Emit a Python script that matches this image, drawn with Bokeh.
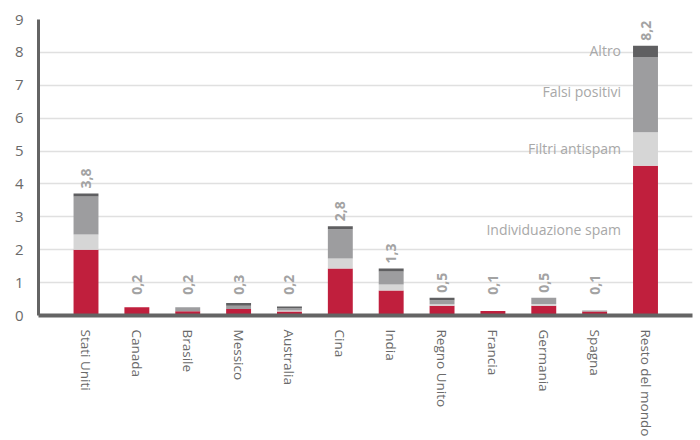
import numpy as np
from bokeh.plotting import figure
from bokeh.models import ColumnDataSource, Range1d, FixedTicker
from bokeh.core.properties import value
from bokeh.embed import file_html
from bokeh.resources import INLINE

countries = ["Stati Uniti", "Canada", "Brasile", "Messico", "Australia", "Cina",
             "India", "Regno Unito", "Francia", "Germania", "Spagna", "Resto del mondo"]
spam = [2.0, 0.25, 0.13, 0.2, 0.12, 1.43, 0.76, 0.3, 0.14, 0.3, 0.12, 4.55]
antispam = [0.46, 0.0, 0.0, 0.0, 0.03, 0.3, 0.18, 0.04, 0.0, 0.05, 0.0, 1.02]
falsi = [1.16, 0.0, 0.12, 0.1, 0.08, 0.89, 0.4, 0.12, 0.0, 0.19, 0.03, 2.29]
altro = [0.09, 0.0, 0.0, 0.08, 0.04, 0.09, 0.09, 0.08, 0.0, 0.0, 0.0, 0.34]
totals_lbl = ["3,8", "0,2", "0,2", "0,3", "0,2", "2,8", "1,3", "0,5", "0,1", "0,5", "0,1", "8,2"]
series_names = ["Individuazione spam", "Filtri antispam", "Falsi positivi", "Altro"]
y_ticks = list(range(0, 10))

colors = ["#c01f3d", "#d6d6d6", "#9d9d9f", "#5f5f61"]
FONT = "Open Sans"

x = list(range(len(countries)))
src = ColumnDataSource(dict(x=x, spam=spam, antispam=antispam, falsi=falsi, altro=altro))

p = figure(width=700, height=440, output_backend="svg", toolbar_location=None,
           x_range=Range1d(-0.934, 11.924), y_range=Range1d(0, 9),
           min_border_left=38, min_border_right=8, min_border_top=19, min_border_bottom=125)
p.outline_line_color = None
p.background_fill_color = "white"
p.border_fill_color = "white"

p.vbar_stack(["spam", "antispam", "falsi", "altro"], x="x", width=0.49, source=src,
             color=colors, line_color=None)

tot = np.array(spam) + np.array(antispam) + np.array(falsi) + np.array(altro)
lbl_y = np.maximum(tot, 0.48)
p.text(x=x, y=list(lbl_y), text=totals_lbl, angle=np.pi / 2, text_align="left",
       text_baseline="middle", y_offset=-5, text_font=value(FONT), text_font_style="bold",
       text_font_size="14px", text_color="#a3a3a3")

# series names next to the last bar
p.text(x=[10.755] * 4, y=[2.6, 5.08, 6.8, 8.07], text=series_names, text_align="right",
       text_baseline="middle", x_offset=-12, text_font=value(FONT), text_font_size="14px",
       text_color="#a8a8a8")

# axes
p.yaxis.ticker = FixedTicker(ticks=y_ticks)
p.xaxis.ticker = FixedTicker(ticks=x)
p.xaxis.major_label_overrides = {i: c for i, c in enumerate(countries)}
p.xaxis.major_label_orientation = "vertical"
for ax in (p.xaxis, p.yaxis):
    ax.major_tick_line_color = None
    ax.minor_tick_line_color = None
    ax.axis_line_color = "#646464"
    ax.major_label_text_font = FONT
    ax.major_label_text_color = "#6a6a6a"
p.yaxis.axis_line_width = 3
p.xaxis.axis_line_width = 4
p.yaxis.major_label_text_font_size = "15px"
p.xaxis.major_label_text_font_size = "13.5px"
p.yaxis.major_label_standoff = 9
p.xaxis.major_label_standoff = 8
p.xgrid.grid_line_color = None
p.ygrid.grid_line_color = "#e0e0e0"
p.ygrid.grid_line_width = 1.5

open("out.html", "w").write(file_html(p, INLINE))
